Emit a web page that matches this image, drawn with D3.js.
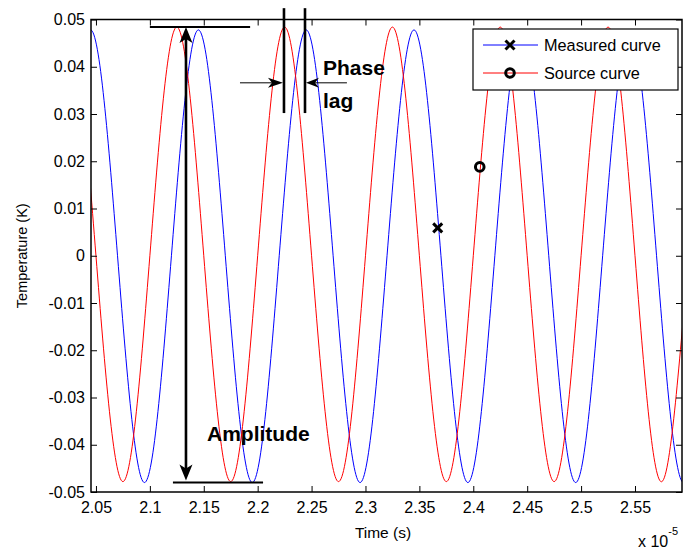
<!DOCTYPE html>
<html>
<head>
<meta charset="utf-8">
<script src="https://cdn.jsdelivr.net/npm/d3@7"></script>
<style>
  body { margin: 0; background: #fff; }
  text { font-family: "Liberation Sans", Arial, sans-serif; fill: #000; }
</style>
</head>
<body>
<div id="root"></div>
<script>
// tick values (time in units of 1e-5 s, temperature in K)
const xTicks = [2.05, 2.1, 2.15, 2.2, 2.25, 2.3, 2.35, 2.4, 2.45, 2.5, 2.55];
const xTickLabels = ['2.05', '2.1', '2.15', '2.2', '2.25', '2.3', '2.35', '2.4', '2.45', '2.5', '2.55'];
const yTicks = [-0.05, -0.04, -0.03, -0.02, -0.01, 0, 0.01, 0.02, 0.03, 0.04, 0.05];
const yTickLabels = ['-0.05', '-0.04', '-0.03', '-0.02', '-0.01', '0', '0.01', '0.02', '0.03', '0.04', '0.05'];

// source curve (red): zero crossings, peaks and troughs
const sourceTime = [2.0, 2.025, 2.05, 2.075, 2.1, 2.125, 2.15, 2.175, 2.2, 2.225, 2.25, 2.275,
  2.3, 2.325, 2.35, 2.375, 2.4, 2.425, 2.45, 2.475, 2.5, 2.525, 2.55, 2.575, 2.6, 2.625];
const sourceTemp = [0, 0.0484, 0, -0.0478, 0, 0.0484, 0, -0.0478, 0, 0.0484, 0, -0.0478,
  0, 0.0484, 0, -0.0478, 0, 0.0484, 0, -0.0478, 0, 0.0484, 0, -0.0478, 0, 0.0484];

// measured curve (blue): same points, lagging the source
const measuredTime = [2.02, 2.045, 2.07, 2.095, 2.12, 2.145, 2.17, 2.195, 2.22, 2.245, 2.27, 2.295,
  2.32, 2.345, 2.37, 2.395, 2.42, 2.445, 2.47, 2.495, 2.52, 2.545, 2.57, 2.595, 2.62];
const measuredTemp = [0, 0.0478, 0, -0.048, 0, 0.0478, 0, -0.048, 0, 0.0478, 0, -0.048,
  0, 0.0478, 0, -0.048, 0, 0.0478, 0, -0.048, 0, 0.0478, 0, -0.048, 0];

// the single markers on each curve
const markerTime = [2.367, 2.406];
const markerTemp = [0.0059, 0.0188];
const markerKind = ['x', 'o'];

const legendLabels = ['Measured curve', 'Source curve'];
const legendColors = ['#0000ff', '#ff0000'];

// annotation anchors in data units
const amplitudeTime = 2.1335;
const amplitudeTop = 0.0484;
const amplitudeBottom = -0.048;
const amplitudeTopSpan = [2.1, 2.193];
const amplitudeBottomSpan = [2.1214, 2.205];
const phasePeaks = [2.2244, 2.2439];
const phaseSpan = [0.0524, 0.0302];
const phaseArrowY = 0.0366;
const phaseArrowStart = [2.1836, 2.2828];

const width = 683;
const height = 552;
const plot = { left: 91, right: 682, top: 19.5, bottom: 492 };

const x = d3.scaleLinear().domain([2.0454, 2.5936]).range([plot.left, plot.right]);
const y = d3.scaleLinear().domain([-0.05, 0.05]).range([plot.bottom, plot.top]);

const svg = d3.select('#root')
  .append('svg')
  .attr('width', width)
  .attr('height', height);

svg.append('defs').append('clipPath')
  .attr('id', 'plot-clip')
  .append('rect')
  .attr('x', plot.left)
  .attr('y', plot.top)
  .attr('width', plot.right - plot.left)
  .attr('height', plot.bottom - plot.top);

// curves
const line = d3.line()
  .x(d => x(d[0]))
  .y(d => y(d[1]))
  .curve(d3.curveNatural);

const curves = svg.append('g').attr('clip-path', 'url(#plot-clip)');
curves.append('path')
  .datum(d3.zip(measuredTime, measuredTemp))
  .attr('fill', 'none')
  .attr('stroke', legendColors[0])
  .attr('stroke-width', 1)
  .attr('d', line);
curves.append('path')
  .datum(d3.zip(sourceTime, sourceTemp))
  .attr('fill', 'none')
  .attr('stroke', legendColors[1])
  .attr('stroke-width', 1)
  .attr('d', line);

// axes, ticks pointing inward like matlab
const tickLen = 6;
const fmtX = (d, i) => xTickLabels[i];
const fmtY = (d, i) => yTickLabels[i];

function styleAxis(g) {
  g.select('.domain').remove();
  g.selectAll('.tick line').attr('stroke', '#000');
  g.selectAll('.tick text')
    .attr('font-size', 16)
    .attr('font-family', '"Liberation Sans", Arial, sans-serif')
    .attr('fill', '#000');
}

svg.append('g')
  .attr('transform', `translate(0,${plot.bottom})`)
  .call(d3.axisBottom(x).tickValues(xTicks).tickFormat(fmtX).tickSize(-tickLen).tickPadding(10))
  .call(styleAxis);
svg.append('g')
  .attr('transform', `translate(0,${plot.top})`)
  .call(d3.axisTop(x).tickValues(xTicks).tickFormat('').tickSize(-tickLen))
  .call(styleAxis);
svg.append('g')
  .attr('transform', `translate(${plot.left},0)`)
  .call(d3.axisLeft(y).tickValues(yTicks).tickFormat(fmtY).tickSize(-tickLen).tickPadding(6))
  .call(styleAxis);
svg.append('g')
  .attr('transform', `translate(${plot.right},0)`)
  .call(d3.axisRight(y).tickValues(yTicks).tickFormat('').tickSize(-tickLen))
  .call(styleAxis);

svg.append('rect')
  .attr('x', plot.left)
  .attr('y', plot.top)
  .attr('width', plot.right - plot.left)
  .attr('height', plot.bottom - plot.top)
  .attr('fill', 'none')
  .attr('stroke', '#000')
  .attr('stroke-width', 1.5);

// axis labels
svg.append('text')
  .attr('x', 383)
  .attr('y', 538)
  .attr('text-anchor', 'middle')
  .attr('font-size', 15.5)
  .text('Time (s)');

svg.append('text')
  .attr('transform', `translate(27,${(plot.top + plot.bottom) / 2}) rotate(-90)`)
  .attr('text-anchor', 'middle')
  .attr('font-size', 14.5)
  .text('Temperature (K)');

const expo = svg.append('text')
  .attr('x', 638)
  .attr('y', 547)
  .attr('font-size', 16)
  .text('x 10');
expo.append('tspan')
  .attr('dy', -12)
  .attr('font-size', 11)
  .text('-5');

// markers
function drawMarker(g, kind, cx, cy) {
  if (kind === 'x') {
    g.append('path')
      .attr('d', `M${cx - 4.5},${cy - 4.5}L${cx + 4.5},${cy + 4.5}M${cx - 4.5},${cy + 4.5}L${cx + 4.5},${cy - 4.5}`)
      .attr('stroke', '#000')
      .attr('stroke-width', 3);
  } else {
    g.append('circle')
      .attr('cx', cx)
      .attr('cy', cy)
      .attr('r', 4.3)
      .attr('fill', 'none')
      .attr('stroke', '#000')
      .attr('stroke-width', 3);
  }
}

const markers = svg.append('g');
markerKind.forEach((k, i) => drawMarker(markers, k, x(markerTime[i]), y(markerTemp[i])));

// amplitude annotation
const ann = svg.append('g').attr('stroke', '#000').attr('fill', '#000');
ann.append('line')
  .attr('x1', x(amplitudeTopSpan[0])).attr('x2', x(amplitudeTopSpan[1]))
  .attr('y1', y(amplitudeTop)).attr('y2', y(amplitudeTop))
  .attr('stroke-width', 2);
ann.append('line')
  .attr('x1', x(amplitudeBottomSpan[0])).attr('x2', x(amplitudeBottomSpan[1]))
  .attr('y1', y(amplitudeBottom)).attr('y2', y(amplitudeBottom))
  .attr('stroke-width', 2);

const ax = x(amplitudeTime);
const aTop = y(amplitudeTop);
const aBot = y(amplitudeBottom);
ann.append('line')
  .attr('x1', ax).attr('x2', ax)
  .attr('y1', aTop + 10).attr('y2', aBot - 10)
  .attr('stroke-width', 2.6);
ann.append('path')
  .attr('stroke', 'none')
  .attr('d', `M${ax},${aTop}L${ax + 6.5},${aTop + 16}L${ax},${aTop + 12}L${ax - 6.5},${aTop + 16}Z`);
ann.append('path')
  .attr('stroke', 'none')
  .attr('d', `M${ax},${aBot - 2}L${ax + 6.5},${aBot - 18}L${ax},${aBot - 14}L${ax - 6.5},${aBot - 18}Z`);

svg.append('text')
  .attr('x', x(2.153))
  .attr('y', y(-0.0393))
  .attr('font-size', 21)
  .attr('font-weight', 'bold')
  .text('Amplitude');

// phase lag annotation
phasePeaks.forEach(t => {
  ann.append('line')
    .attr('x1', x(t)).attr('x2', x(t))
    .attr('y1', y(phaseSpan[0])).attr('y2', y(phaseSpan[1]))
    .attr('stroke-width', 2.6);
});

const py = y(phaseArrowY);
const lTip = x(phasePeaks[0]);
const rTip = x(phasePeaks[1]);
ann.append('line')
  .attr('x1', x(phaseArrowStart[0])).attr('x2', lTip - 8)
  .attr('y1', py).attr('y2', py)
  .attr('stroke-width', 1);
ann.append('path')
  .attr('stroke', 'none')
  .attr('d', `M${lTip - 1},${py}L${lTip - 16},${py - 5}L${lTip - 12},${py}L${lTip - 16},${py + 5}Z`);
ann.append('line')
  .attr('x1', x(phaseArrowStart[1])).attr('x2', rTip + 8)
  .attr('y1', py).attr('y2', py)
  .attr('stroke-width', 1);
ann.append('path')
  .attr('stroke', 'none')
  .attr('d', `M${rTip + 1},${py}L${rTip + 14},${py - 5}L${rTip + 10},${py}L${rTip + 14},${py + 5}Z`);

svg.append('text')
  .attr('x', x(2.2606))
  .attr('y', y(0.0383))
  .attr('font-size', 21)
  .attr('font-weight', 'bold')
  .text('Phase');
svg.append('text')
  .attr('x', x(2.2606))
  .attr('y', y(0.0313))
  .attr('font-size', 21)
  .attr('font-weight', 'bold')
  .text('lag');

// legend
const legend = svg.append('g').attr('transform', 'translate(473,29)');
legend.append('rect')
  .attr('width', 205)
  .attr('height', 61)
  .attr('fill', '#fff')
  .attr('stroke', '#000')
  .attr('stroke-width', 1.2);

legendLabels.forEach((label, i) => {
  const ly = 16 + i * 28;
  legend.append('line')
    .attr('x1', 10).attr('x2', 65)
    .attr('y1', ly).attr('y2', ly)
    .attr('stroke', legendColors[i])
    .attr('stroke-width', 1);
  drawMarker(legend, markerKind[i], 37, ly);
  legend.append('text')
    .attr('x', 71)
    .attr('y', ly + 6)
    .attr('font-size', 16.3)
    .text(label);
});
</script>
</body>
</html>
